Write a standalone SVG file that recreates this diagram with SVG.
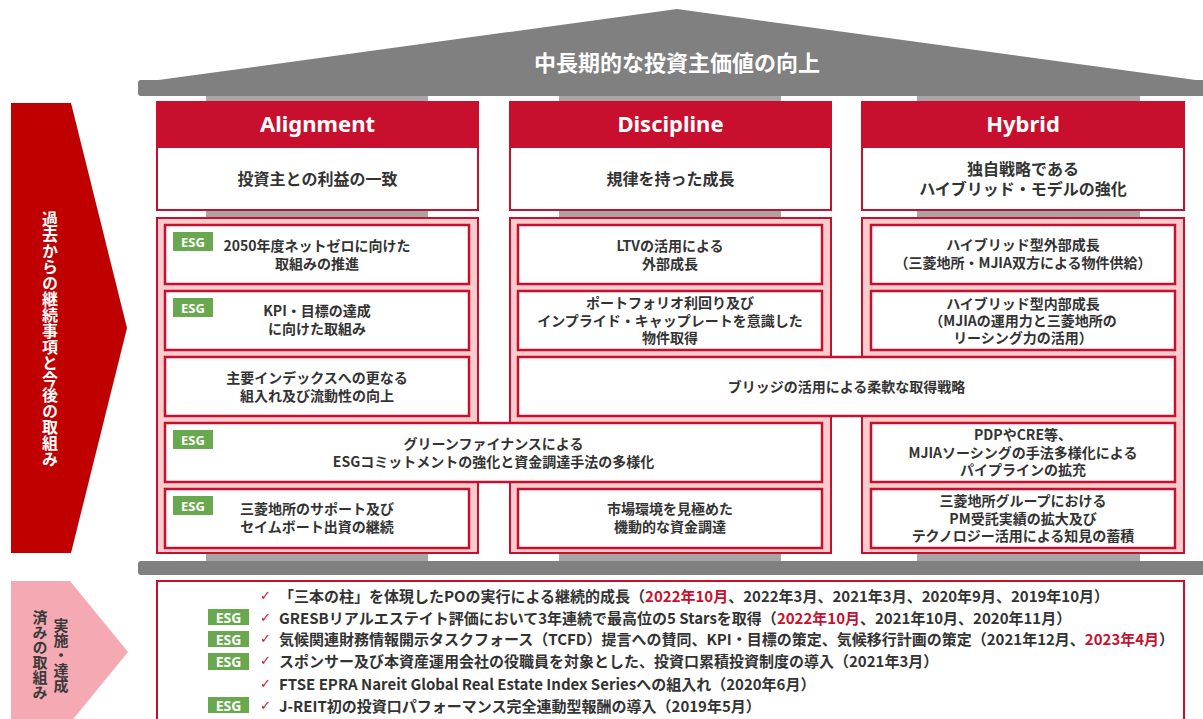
<svg xmlns="http://www.w3.org/2000/svg" width="1203" height="719" viewBox="0 0 1203 719">
<style>
.roof{fill:#808080}
.stub{fill:#a6a6a6}
.hdr{fill:#C8102E}
.sub{fill:#fff;stroke:#C8102E;stroke-width:2}
.outer{fill:#F9CDCD;stroke:#C8102E;stroke-width:2}
.box{fill:#fff;stroke:#C8102E;stroke-width:2.5}
.esg{fill:#6AA84F}
.esgt{font-family:"Noto Sans","DejaVu Sans",sans-serif;font-weight:700;font-size:13px;fill:#fff;text-anchor:middle;dominant-baseline:central}
.t{font-family:"Noto Sans CJK JP","Noto Sans",sans-serif;font-weight:700;font-size:14px;fill:#333;text-anchor:middle;dominant-baseline:central}
.st{font-family:"Noto Sans CJK JP","Noto Sans",sans-serif;font-weight:700;font-size:16px;fill:#333;text-anchor:middle;dominant-baseline:central}
.ht{font-family:"Noto Sans","Noto Sans CJK JP",sans-serif;font-weight:700;font-size:22px;fill:#fff;text-anchor:middle;dominant-baseline:central}
.lt{font-family:"Noto Sans CJK JP","Noto Sans",sans-serif;font-weight:700;font-size:15px;fill:#333;dominant-baseline:central}
.ck{font-family:"DejaVu Sans",sans-serif;font-size:13px;fill:#C8102E;dominant-baseline:central}
.red{fill:#C8102E}
.vt{font-family:"Noto Sans CJK JP",sans-serif;font-weight:700;font-size:16px;writing-mode:vertical-rl;text-anchor:middle}
</style>

<g id="roof">
  <polygon class="roof" points="151,81 677,9 1203,81"/>
  <rect class="roof" x="138" y="80" width="1070" height="16" rx="3"/>
  <rect class="stub" x="206" y="96" width="222" height="6"/>
  <rect class="stub" x="559" y="96" width="222" height="6"/>
  <rect class="stub" x="917" y="96" width="223" height="6"/>
  <text x="677" y="61" class="ht" style="font-family:'Noto Sans CJK JP',sans-serif">中長期的な投資主価値の向上</text>
</g>

<g id="left-arrow">
  <polygon points="11,103 71,103 127,328 71,553 11,553" fill="#C00000"/>
  <text x="50" y="339" class="vt" fill="#fff">過去からの継続事項と今後の取組み</text>
</g>

<g id="bottom-arrow">
  <polygon points="11,581 70,581 128,652 70,723 11,723" fill="#F4A9B3"/>
  <text x="61" y="655" class="vt" fill="#3a3a3a" style="font-size:15px">実施・達成</text>
  <text x="40" y="655" class="vt" fill="#3a3a3a" style="font-size:15px">済みの取組み</text>
</g>

<g id="mid-stubs">
  <rect class="stub" x="206" y="209" width="222" height="10"/>
  <rect class="stub" x="559" y="209" width="222" height="10"/>
  <rect class="stub" x="917" y="209" width="223" height="10"/>
  <rect class="stub" x="206" y="552" width="222" height="10"/>
  <rect class="stub" x="559" y="552" width="222" height="10"/>
  <rect class="stub" x="917" y="552" width="223" height="10"/>
</g>

<g id="header-alignment">
  <rect class="sub" x="157" y="102" width="321" height="108"/>
  <rect class="hdr" x="157" y="102" width="321" height="46"/>
  <text x="317.5" y="123" class="ht">Alignment</text>
  <text x="317.5" y="178" class="st">投資主との利益の一致</text>
</g>
<g id="header-discipline">
  <rect class="sub" x="510" y="102" width="321" height="108"/>
  <rect class="hdr" x="510" y="102" width="321" height="46"/>
  <text x="670.5" y="123" class="ht">Discipline</text>
  <text x="670.5" y="178" class="st">規律を持った成長</text>
</g>
<g id="header-hybrid">
  <rect class="sub" x="862" y="102" width="322" height="108"/>
  <rect class="hdr" x="862" y="102" width="322" height="46"/>
  <text x="1023" y="123" class="ht">Hybrid</text>
  <text class="st"><tspan x="1023" y="168">独自戦略である</tspan><tspan x="1023" dy="20">ハイブリッド・モデルの強化</tspan></text>
</g>

<g id="col-alignment"><rect class="outer" x="157" y="218" width="321" height="335"/></g>
<g id="col-discipline"><rect class="outer" x="510" y="218" width="321" height="335"/></g>
<g id="col-hybrid"><rect class="outer" x="862" y="218" width="322" height="335"/></g>

<g id="a1">
  <rect class="box" x="165" y="225" width="304" height="59"/>
  <rect class="esg" x="173" y="232" width="40" height="19"/><text x="193" y="241.5" class="esgt">ESG</text>
  <text class="t"><tspan x="317" y="245">2050年度ネットゼロに向けた</tspan><tspan x="317" dy="18">取組みの推進</tspan></text>
</g>
<g id="a2">
  <rect class="box" x="165" y="291" width="304" height="59"/>
  <rect class="esg" x="173" y="298" width="40" height="19"/><text x="193" y="307.5" class="esgt">ESG</text>
  <text class="t"><tspan x="317" y="310">KPI・目標の達成</tspan><tspan x="317" dy="18">に向けた取組み</tspan></text>
</g>
<g id="a3">
  <rect class="box" x="165" y="357" width="304" height="59"/>
  <text class="t"><tspan x="317" y="377">主要インデックスへの更なる</tspan><tspan x="317" dy="17.5">組入れ及び流動性の向上</tspan></text>
</g>
<g id="a4">
  <rect class="box" x="165" y="423" width="657" height="59"/>
  <rect class="esg" x="173" y="430" width="40" height="19"/><text x="193" y="439.5" class="esgt">ESG</text>
  <text class="t"><tspan x="493.5" y="443">グリーンファイナンスによる</tspan><tspan x="493.5" dy="18">ESGコミットメントの強化と資金調達手法の多様化</tspan></text>
</g>
<g id="a5">
  <rect class="box" x="165" y="489" width="304" height="59"/>
  <rect class="esg" x="173" y="496" width="40" height="19"/><text x="193" y="505.5" class="esgt">ESG</text>
  <text class="t"><tspan x="317" y="508">三菱地所のサポート及び</tspan><tspan x="317" dy="18">セイムボート出資の継続</tspan></text>
</g>

<g id="d1">
  <rect class="box" x="518" y="225" width="304" height="59"/>
  <text class="t"><tspan x="670" y="244.5">LTVの活用による</tspan><tspan x="670" dy="18">外部成長</tspan></text>
</g>
<g id="d2">
  <rect class="box" x="518" y="291" width="304" height="59"/>
  <text class="t"><tspan x="670" y="302">ポートフォリオ利回り及び</tspan><tspan x="670" dy="18">インプライド・キャップレートを意識した</tspan><tspan x="670" dy="17">物件取得</tspan></text>
</g>
<g id="d3">
  <rect class="box" x="518" y="357" width="657" height="59"/>
  <text x="846.5" y="386" class="t">ブリッジの活用による柔軟な取得戦略</text>
</g>
<g id="d5">
  <rect class="box" x="518" y="489" width="304" height="59"/>
  <text class="t"><tspan x="670" y="508">市場環境を見極めた</tspan><tspan x="670" dy="18">機動的な資金調達</tspan></text>
</g>

<g id="h1">
  <rect class="box" x="871" y="225" width="304" height="59"/>
  <text class="t"><tspan x="1023" y="243.5">ハイブリッド型外部成長</tspan><tspan x="1023" dy="18.5">（三菱地所・MJIA双方による物件供給）</tspan></text>
</g>
<g id="h2">
  <rect class="box" x="871" y="291" width="304" height="59"/>
  <text class="t"><tspan x="1023" y="302.5">ハイブリッド型内部成長</tspan><tspan x="1023" dy="17.5">（MJIAの運用力と三菱地所の</tspan><tspan x="1023" dy="17">リーシング力の活用）</tspan></text>
</g>
<g id="h4">
  <rect class="box" x="871" y="423" width="304" height="59"/>
  <text class="t"><tspan x="1023" y="434">PDPやCRE等、</tspan><tspan x="1023" dy="17.5">MJIAソーシングの手法多様化による</tspan><tspan x="1023" dy="17">パイプラインの拡充</tspan></text>
</g>
<g id="h5">
  <rect class="box" x="871" y="489" width="304" height="59"/>
  <text class="t"><tspan x="1023" y="500">三菱地所グループにおける</tspan><tspan x="1023" dy="17.5">PM受託実績の拡大及び</tspan><tspan x="1023" dy="17.5">テクノロジー活用による知見の蓄積</tspan></text>
</g>

<g id="base">
  <rect class="roof" x="138" y="561" width="1070" height="14" rx="3"/>
</g>

<g id="achievements">
  <rect x="157" y="581" width="1027" height="150" fill="#fff" stroke="#C8102E" stroke-width="2"/>
  <text x="260" y="595" class="ck">✓</text>
  <text x="279" y="595" class="lt">「三本の柱」を体現したPOの実行による継続的成長（<tspan class="red">2022年10月</tspan>、2022年3月、2021年3月、2020年9月、2019年10月）</text>

  <rect class="esg" x="208" y="609" width="41" height="16"/><text x="228.5" y="617" class="esgt" style="font-size:14px">ESG</text>
  <text x="260" y="617" class="ck">✓</text>
  <text x="279" y="617" class="lt">GRESBリアルエステイト評価において3年連続で最高位の5 Starsを取得（<tspan class="red">2022年10月</tspan>、2021年10月、2020年11月）</text>

  <rect class="esg" x="208" y="631" width="41" height="16"/><text x="228.5" y="639" class="esgt" style="font-size:14px">ESG</text>
  <text x="260" y="638" class="ck">✓</text>
  <text x="279" y="638" class="lt">気候関連財務情報開示タスクフォース（TCFD）提言への賛同、KPI・目標の策定、気候移行計画の策定（2021年12月、<tspan class="red">2023年4月</tspan>）</text>

  <rect class="esg" x="208" y="653" width="41" height="17"/><text x="228.5" y="661.5" class="esgt" style="font-size:14px">ESG</text>
  <text x="260" y="660" class="ck">✓</text>
  <text x="279" y="660" class="lt">スポンサー及び本資産運用会社の役職員を対象とした、投資口累積投資制度の導入（2021年3月）</text>

  <text x="260" y="683" class="ck">✓</text>
  <text x="279" y="683" class="lt">FTSE EPRA Nareit Global Real Estate Index Seriesへの組入れ（2020年6月）</text>

  <rect class="esg" x="208" y="697" width="41" height="16"/><text x="228.5" y="705" class="esgt" style="font-size:14px">ESG</text>
  <text x="260" y="705" class="ck">✓</text>
  <text x="279" y="705" class="lt">J-REIT初の投資口パフォーマンス完全連動型報酬の導入（2019年5月）</text>
</g>

<g id="connectors"/>
</svg>
